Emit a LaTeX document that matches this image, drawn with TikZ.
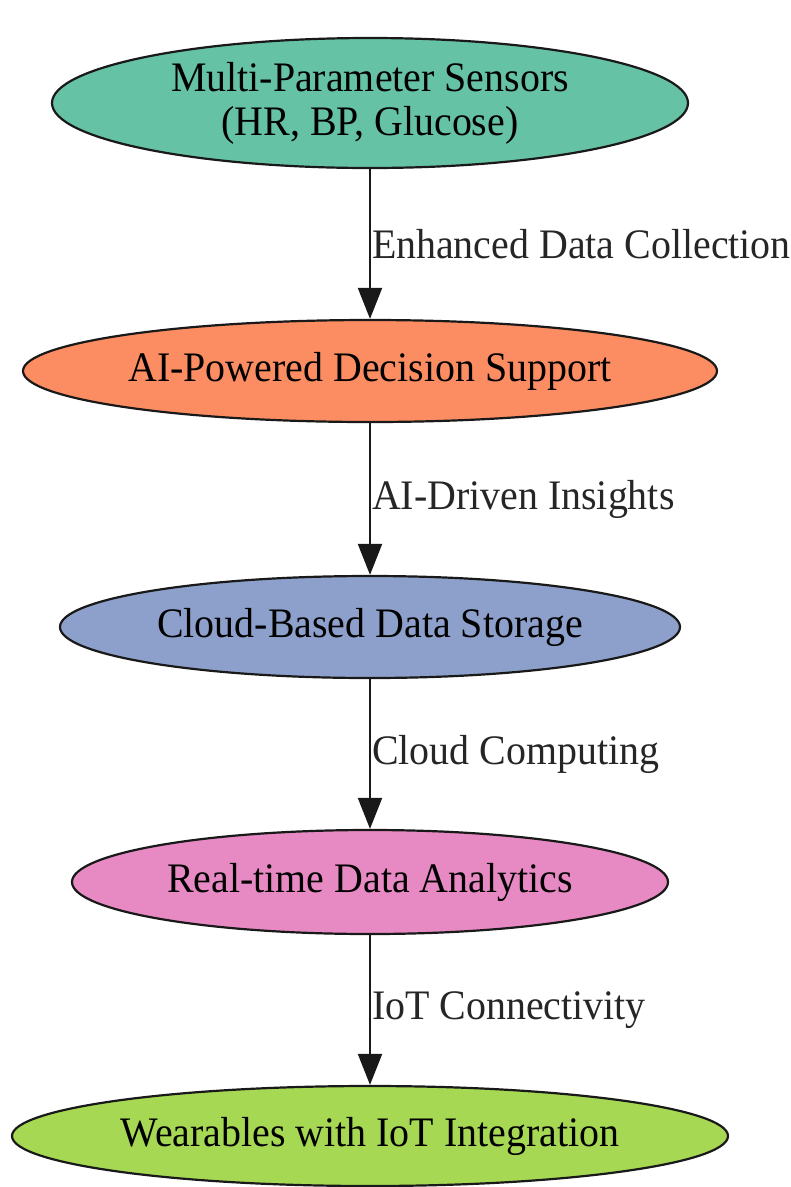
\documentclass[tikz,border=0pt]{standalone}
\usepackage{fontspec}
\setmainfont[FakeStretch=0.95]{Liberation Serif}
\usepackage{xcolor}
\usepackage{tikz}
\usetikzlibrary{positioning, arrows.meta, shapes.geometric}
\definecolor{sensorgreen}{HTML}{66C2A5}
\definecolor{aiorange}{HTML}{FC8D62}
\definecolor{cloudblue}{HTML}{8DA0CB}
\definecolor{analyticspink}{HTML}{E78AC3}
\definecolor{wearlime}{HTML}{A6D854}
\tikzset{
	font = \fontsize{42}{44}\selectfont,
	stage/.style={
		draw=black!90,
		ellipse,
		line width=2.2pt,
		inner sep=0pt,
		align=center,
		text=black
	},
	flow/.style={
		-{Triangle[length=31pt,width=24pt]},
		line width=2pt,
		black!90
	},
	flow label/.style={
		right,
		inner sep=1pt,
		text=black!85
	}
}

\begin{document}
\begin{tikzpicture}[x=1pt, y=-1pt]
		\useasboundingbox (0,0) rectangle (791,1187);
		\node[stage, fill=sensorgreen, minimum width=636pt, minimum height=130pt] at (370,103) (sensors) {Multi-Parameter Sensors\\(HR, BP, Glucose)};
		\node[stage, fill=aiorange, minimum width=694pt, minimum height=102pt] at (370,371) (ai) {AI-Powered Decision Support};
		\node[stage, fill=cloudblue, minimum width=620pt, minimum height=102pt] at (370,627) (cloud) {Cloud-Based Data Storage};
		\node[stage, fill=analyticspink, minimum width=596pt, minimum height=104pt] at (370,882) (analytics) {Real-time Data Analytics};
		\node[stage, fill=wearlime, minimum width=716pt, minimum height=100pt] at (370,1136) (wearables) {Wearables with IoT Integration};
		\draw[flow] (sensors) to node[flow label, midway] {Enhanced Data Collection} (ai);
		\draw[flow] (ai) to node[flow label, midway] {AI-Driven Insights} (cloud);
		\draw[flow] (cloud) to node[flow label, midway] {Cloud Computing} (analytics);
		\draw[flow] (analytics) to node[flow label, midway] {IoT Connectivity} (wearables);
	\end{tikzpicture}
\end{document}
